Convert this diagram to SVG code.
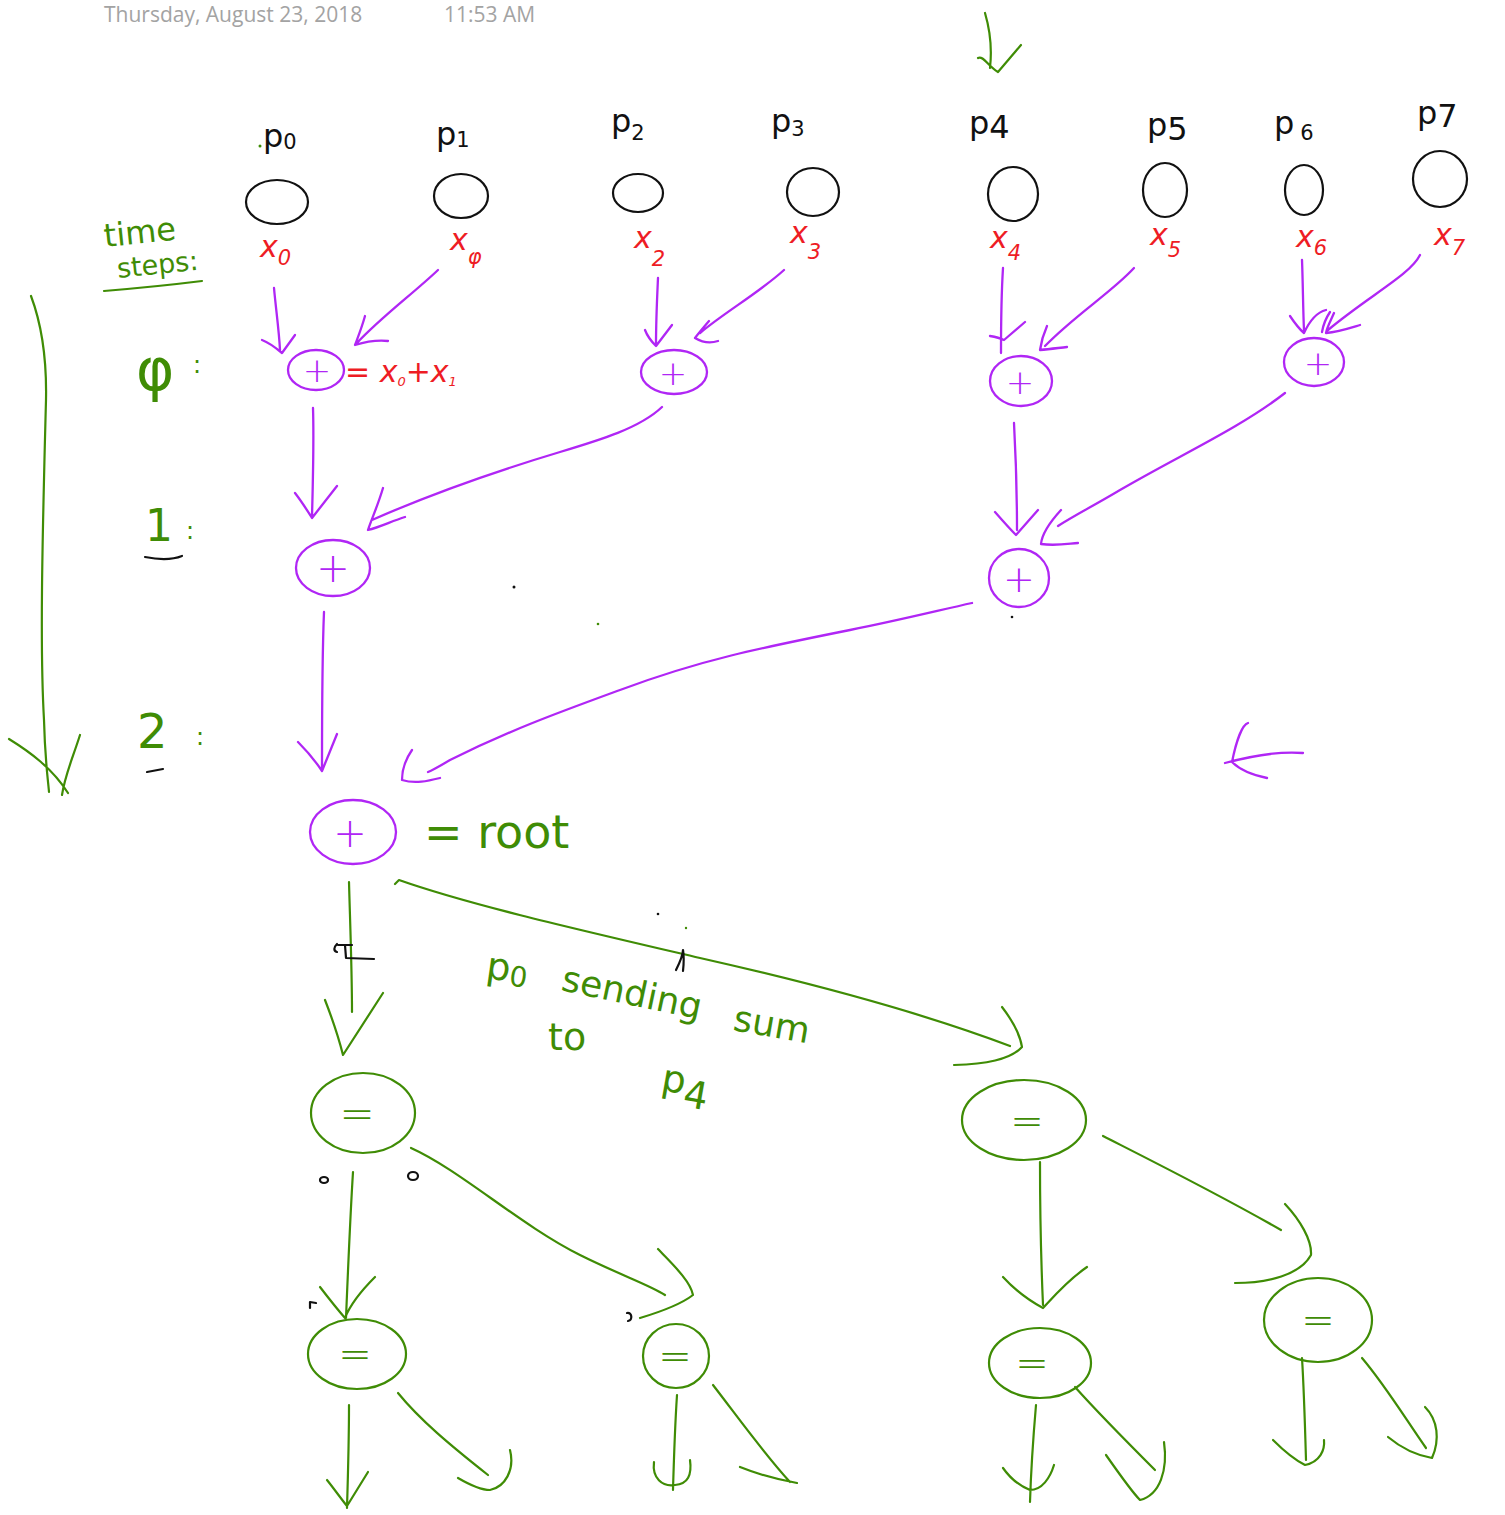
<svg xmlns="http://www.w3.org/2000/svg" width="1505" height="1515" viewBox="0 0 1505 1515">
  <style>
    .ink { fill: none; stroke-linecap: round; stroke-linejoin: round; }
    .blk { stroke: #111; stroke-width: 2.2; }
    .pur { stroke: #b026f5; stroke-width: 2.3; }
    .grn { stroke: #3f8c05; stroke-width: 2.2; }
    .red { stroke: #ee1c24; stroke-width: 2; }
    .hdr { font-family: "Open Sans", "Liberation Sans", sans-serif; font-size: 21px; fill: #a3a3a3; }
    .pl { font-family: "DejaVu Sans", "Liberation Sans", sans-serif; font-size: 32px; fill: #111; }
    .xl { font-family: "DejaVu Sans", "Liberation Sans", sans-serif; font-size: 30px; font-style: italic; fill: #ee1c24; }
    .gt { font-family: "DejaVu Sans", "Liberation Sans", sans-serif; fill: #3f8c05; }
    .op { font-family: "DejaVu Sans", "Liberation Sans", sans-serif; text-anchor: middle; font-weight: 300; }
    .sub { font-size: 21px; }
  </style>

  <!-- page header -->
  <text class="hdr" x="104" y="22">Thursday, August 23, 2018</text>
  <text class="hdr" x="444" y="22">11:53 AM</text>

  <!-- incoming arrow above p4 -->
  <g id="top-arrow">
    <path class="ink grn" d="M985,13 C990,30 992,50 990,68 M978,58 C983,55 988,66 998,72 L1021,45"/>
  </g>

  <!-- time-step legend -->
  <g id="legend">
    <text class="gt" x="105" y="247" font-size="32" transform="rotate(-6 105 247)">time</text>
    <text class="gt" x="118" y="278" font-size="27" transform="rotate(-6 118 278)">steps:</text>
    <path class="ink grn" d="M104,291 C140,288 170,285 202,281"/>
    <text class="gt" x="136" y="390" font-size="58">φ</text>
    <text class="gt" x="193" y="373" font-size="24">:</text>
    <text class="gt" x="145" y="541" font-size="44">1</text>
    <text class="gt" x="186" y="539" font-size="24">:</text>
    <path class="ink blk" d="M145,557 C160,560 172,560 182,556"/>
    <text class="gt" x="137" y="748" font-size="48">2</text>
    <text class="gt" x="196" y="745" font-size="24">:</text>
    <path class="ink blk" d="M147,772 L163,769"/>
    <!-- long time axis -->
    <path class="ink grn" d="M31,296 C40,320 47,350 46,400 C42,550 40,650 44,720 C45,760 48,780 49,792 M9,739 C30,752 52,768 68,793 M80,735 C72,760 65,775 62,795"/>
  </g>

  <!-- processors -->
  <g id="p0"><text class="pl" x="263" y="147">p<tspan class="sub" dy="2">0</tspan></text><ellipse class="ink blk" cx="277" cy="202" rx="31" ry="22"/></g>
  <g id="p1"><text class="pl" x="436" y="145">p<tspan class="sub" dy="2">1</tspan></text><ellipse class="ink blk" cx="461" cy="196" rx="27" ry="22"/></g>
  <g id="p2"><text class="pl" x="611" y="132">p<tspan class="sub" dy="8">2</tspan></text><ellipse class="ink blk" cx="638" cy="193" rx="25" ry="19"/></g>
  <g id="p3"><text class="pl" x="771" y="132">p<tspan class="sub" dy="4">3</tspan></text><ellipse class="ink blk" cx="813" cy="192" rx="26" ry="24"/></g>
  <g id="p4"><text class="pl" x="969" y="134">p<tspan dy="4">4</tspan></text><ellipse class="ink blk" cx="1013" cy="194" rx="25" ry="27"/></g>
  <g id="p5"><text class="pl" x="1147" y="136">p<tspan dy="4">5</tspan></text><ellipse class="ink blk" cx="1165" cy="190" rx="22" ry="27"/></g>
  <g id="p6"><text class="pl" x="1274" y="134">p<tspan dx="6" dy="6" class="sub">6</tspan></text><ellipse class="ink blk" cx="1304" cy="190" rx="19" ry="25"/></g>
  <g id="p7"><text class="pl" x="1417" y="124">p<tspan dy="3">7</tspan></text><ellipse class="ink blk" cx="1440" cy="179" rx="27" ry="28"/></g>

  <!-- local values -->
  <g id="values">
    <text class="xl" x="260" y="257">x<tspan class="sub" dy="8">0</tspan></text>
    <text class="xl" x="450" y="250">x<tspan class="sub" dy="14">φ</tspan></text>
    <text class="xl" x="634" y="248">x<tspan class="sub" dy="18">2</tspan></text>
    <text class="xl" x="790" y="243">x<tspan class="sub" dy="16">3</tspan></text>
    <text class="xl" x="990" y="248">x<tspan class="sub" dy="12">4</tspan></text>
    <text class="xl" x="1150" y="245">x<tspan class="sub" dy="12">5</tspan></text>
    <text class="xl" x="1296" y="247">x<tspan class="sub" dy="8">6</tspan></text>
    <text class="xl" x="1434" y="245">x<tspan class="sub" dy="10">7</tspan></text>
  </g>

  <!-- reduction nodes -->
  <g id="a0"><ellipse class="ink pur" cx="316" cy="370" rx="28" ry="20"/><text class="op" x="317" y="382" font-size="34" fill="#b026f5">+</text>
    <text class="xl" x="345" y="382" font-size="20" font-style="normal">= x<tspan font-size="13" dy="4">0</tspan><tspan dy="-4">+x</tspan><tspan font-size="13" dy="4">1</tspan></text></g>
  <g id="a1"><ellipse class="ink pur" cx="674" cy="372" rx="33" ry="22"/><text class="op" x="673" y="385" font-size="34" fill="#b026f5">+</text></g>
  <g id="a2"><ellipse class="ink pur" cx="1021" cy="381" rx="31" ry="25"/><text class="op" x="1020" y="394" font-size="34" fill="#b026f5">+</text></g>
  <g id="a3"><ellipse class="ink pur" cx="1314" cy="362" rx="30" ry="24"/><text class="op" x="1318" y="375" font-size="34" fill="#b026f5">+</text></g>
  <g id="b0"><ellipse class="ink pur" cx="333" cy="568" rx="37" ry="28"/><text class="op" x="333" y="582" font-size="40" fill="#b026f5">+</text></g>
  <g id="b1"><ellipse class="ink pur" cx="1019" cy="578" rx="30" ry="29"/><text class="op" x="1019" y="592" font-size="38" fill="#b026f5">+</text></g>
  <g id="root"><ellipse class="ink pur" cx="353" cy="832" rx="43" ry="32"/><text class="op" x="350" y="847" font-size="40" fill="#b026f5">+</text>
    <text class="gt" x="424" y="848" font-size="46">= root</text></g>

  <!-- broadcast nodes -->
  <g id="c0"><ellipse class="ink grn" cx="363" cy="1113" rx="52" ry="40"/><text class="op" x="357" y="1128" font-size="42" fill="#3f8c05">=</text></g>
  <g id="c1"><ellipse class="ink grn" cx="1024" cy="1120" rx="62" ry="40"/><text class="op" x="1027" y="1135" font-size="40" fill="#3f8c05">=</text></g>
  <g id="d0"><ellipse class="ink grn" cx="357" cy="1354" rx="49" ry="35"/><text class="op" x="355" y="1368" font-size="40" fill="#3f8c05">=</text></g>
  <g id="d1"><ellipse class="ink grn" cx="676" cy="1356" rx="33" ry="32"/><text class="op" x="675" y="1370" font-size="40" fill="#3f8c05">=</text></g>
  <g id="d2"><ellipse class="ink grn" cx="1040" cy="1363" rx="51" ry="35"/><text class="op" x="1032" y="1377" font-size="40" fill="#3f8c05">=</text></g>
  <g id="d3"><ellipse class="ink grn" cx="1318" cy="1320" rx="54" ry="42"/><text class="op" x="1318" y="1334" font-size="40" fill="#3f8c05">=</text></g>

  <!-- message label -->
  <g id="label">
    <text class="gt" x="485" y="978" font-size="38" transform="rotate(8 485 978)">p<tspan font-size="28" dy="4">0</tspan></text>
    <text class="gt" x="560" y="990" font-size="36" transform="rotate(12 560 990)">sending</text>
    <text class="gt" x="732" y="1030" font-size="36" transform="rotate(10 732 1030)">sum</text>
    <text class="gt" x="548" y="1050" font-size="38">to</text>
    <text class="gt" x="660" y="1090" font-size="38" transform="rotate(10 660 1090)">p<tspan dy="12">4</tspan></text>
  </g>

  <!-- connectors -->
  <g id="connectors">
    <!-- step 0 -->
    <path class="ink pur" d="M274,288 C276,310 279,330 280,350 M262,340 C270,343 276,348 282,353 L295,335"/>
    <path class="ink pur" d="M438,270 C415,292 380,318 357,343 M365,316 C362,327 358,337 355,345 C368,341 378,340 388,341"/>
    <path class="ink pur" d="M658,278 C657,300 656,320 656,345 M645,330 C648,338 652,342 656,346 L672,325"/>
    <path class="ink pur" d="M784,270 C760,292 725,312 700,333 M709,321 C703,328 698,334 695,338 C705,344 712,343 718,341"/>
    <path class="ink pur" d="M1003,268 C1001,300 1001,330 1001,353 M990,336 C996,337 1000,338 1004,340 L1025,322"/>
    <path class="ink pur" d="M1134,268 C1112,292 1075,315 1045,346 M1047,326 C1043,335 1041,343 1040,350 C1050,349 1058,348 1067,347"/>
    <path class="ink pur" d="M1302,260 C1303,285 1303,310 1304,330 M1290,316 C1294,322 1298,328 1304,333 C1310,320 1318,312 1326,310 M1330,312 C1326,318 1323,326 1322,332"/>
    <path class="ink pur" d="M1420,255 C1410,275 1370,295 1328,330 M1334,313 C1331,320 1327,327 1326,333 C1338,332 1350,328 1360,325"/>
    <!-- step 1 -->
    <path class="ink pur" d="M313,408 C314,440 313,480 312,516 M295,493 C302,502 307,510 312,518 L337,486"/>
    <path class="ink pur" d="M662,407 C640,428 600,440 560,452 C500,470 440,490 372,520 M383,488 C378,505 372,518 368,530 C380,527 392,521 405,517"/>
    <path class="ink pur" d="M1014,423 C1016,460 1017,495 1017,530 M995,512 C1002,520 1009,528 1016,535 L1038,510"/>
    <path class="ink pur" d="M1285,393 C1240,428 1180,455 1120,490 C1095,505 1075,515 1058,526 M1061,510 C1050,522 1042,533 1041,544 C1055,546 1066,544 1078,543"/>
    <!-- step 2 -->
    <path class="ink pur" d="M324,612 C322,660 322,710 322,770 M298,742 C308,752 316,762 322,771 L337,734"/>
    <path class="ink pur" d="M972,603 C940,610 900,620 850,630 C760,648 700,660 620,690 C560,712 510,730 450,760 C440,766 433,770 428,772 M412,750 C405,760 402,770 402,780 C415,784 428,781 440,778"/>
    <!-- stray arrow -->
    <path class="ink pur" d="M1303,753 C1280,751 1255,755 1225,763 M1248,723 C1242,725 1236,742 1232,762 C1240,770 1252,775 1267,778"/>
    <!-- broadcast: root to p0 and p4 -->
    <path class="ink grn" d="M349,882 C350,920 352,970 352,1012 M325,1000 C332,1018 338,1035 343,1055 L383,993"/>
    <path class="ink grn" d="M395,884 L399,880 C470,905 580,930 700,958 C820,985 920,1012 1010,1046 M1002,1007 C1012,1020 1020,1035 1022,1047 C1010,1060 985,1064 954,1065"/>
    <!-- broadcast: level 2 -->
    <path class="ink grn" d="M353,1172 C350,1220 348,1270 346,1318 M320,1287 C330,1300 338,1310 345,1318 C350,1305 362,1290 375,1277"/>
    <path class="ink grn" d="M411,1148 C460,1170 520,1225 580,1255 C620,1275 650,1285 665,1295 M658,1249 C670,1262 690,1280 693,1295 C680,1305 660,1312 640,1318"/>
    <path class="ink grn" d="M1040,1162 C1040,1210 1041,1260 1043,1305 M1003,1277 C1015,1290 1028,1300 1043,1308 C1055,1295 1068,1280 1087,1267"/>
    <path class="ink grn" d="M1103,1136 C1160,1165 1220,1195 1281,1230 M1285,1204 C1300,1220 1312,1240 1311,1255 C1300,1275 1268,1283 1235,1283"/>
    <!-- broadcast: level 3 -->
    <path class="ink grn" d="M349,1405 C349,1440 348,1475 347,1508 M327,1480 C335,1490 342,1500 347,1506 L368,1472"/>
    <path class="ink grn" d="M398,1393 C420,1420 450,1445 488,1475 M458,1478 C470,1485 480,1490 490,1490 C505,1487 515,1470 510,1450"/>
    <path class="ink grn" d="M677,1395 C675,1425 674,1455 673,1490 M654,1462 C652,1478 662,1487 675,1485 C688,1484 692,1475 690,1460"/>
    <path class="ink grn" d="M713,1385 C740,1420 765,1455 790,1482 M740,1467 C760,1475 780,1480 797,1483"/>
    <path class="ink grn" d="M1036,1405 C1033,1440 1031,1470 1030,1502 M1003,1468 C1010,1478 1020,1486 1030,1490 C1042,1490 1050,1478 1054,1465"/>
    <path class="ink grn" d="M1075,1387 C1100,1415 1130,1445 1155,1470 M1106,1455 C1120,1475 1132,1492 1140,1500 C1160,1495 1168,1470 1164,1442"/>
    <path class="ink grn" d="M1302,1358 C1304,1390 1305,1425 1306,1460 M1273,1440 C1285,1452 1295,1460 1305,1465 C1320,1462 1325,1450 1324,1440"/>
    <path class="ink grn" d="M1362,1358 C1385,1385 1405,1418 1426,1448 M1388,1437 C1400,1447 1415,1455 1432,1458 C1440,1440 1438,1420 1425,1407"/>
  </g>

  <!-- small pen marks -->
  <g id="marks">
    <path class="ink blk" d="M337,944 C334,947 333,951 337,952 M338,945 L352,945 M345,945 L346,958 L374,959"/>
    <path class="ink blk" d="M676,970 C680,962 683,956 683,950 M683,971 C684,962 684,956 683,950" stroke-width="1.6"/>
    <ellipse class="ink blk" cx="324" cy="1180" rx="4" ry="3"/>
    <ellipse class="ink blk" cx="413" cy="1176" rx="5" ry="4"/>
    <path class="ink blk" d="M310,1308 L310,1302 L316,1303" stroke-width="1.8"/>
    <path class="ink blk" d="M627,1313 C632,1312 633,1320 628,1321" stroke-width="1.8"/>
    <circle cx="514" cy="587" r="1.5" fill="#111"/>
    <circle cx="1012" cy="617" r="1.3" fill="#111"/>
    <circle cx="598" cy="624" r="1.3" fill="#3f8c05"/>
    <circle cx="260" cy="146" r="1.5" fill="#3f8c05"/>
    <circle cx="658" cy="914" r="1.3" fill="#111"/>
    <circle cx="686" cy="928" r="1.2" fill="#3f8c05"/>
  </g>
</svg>
